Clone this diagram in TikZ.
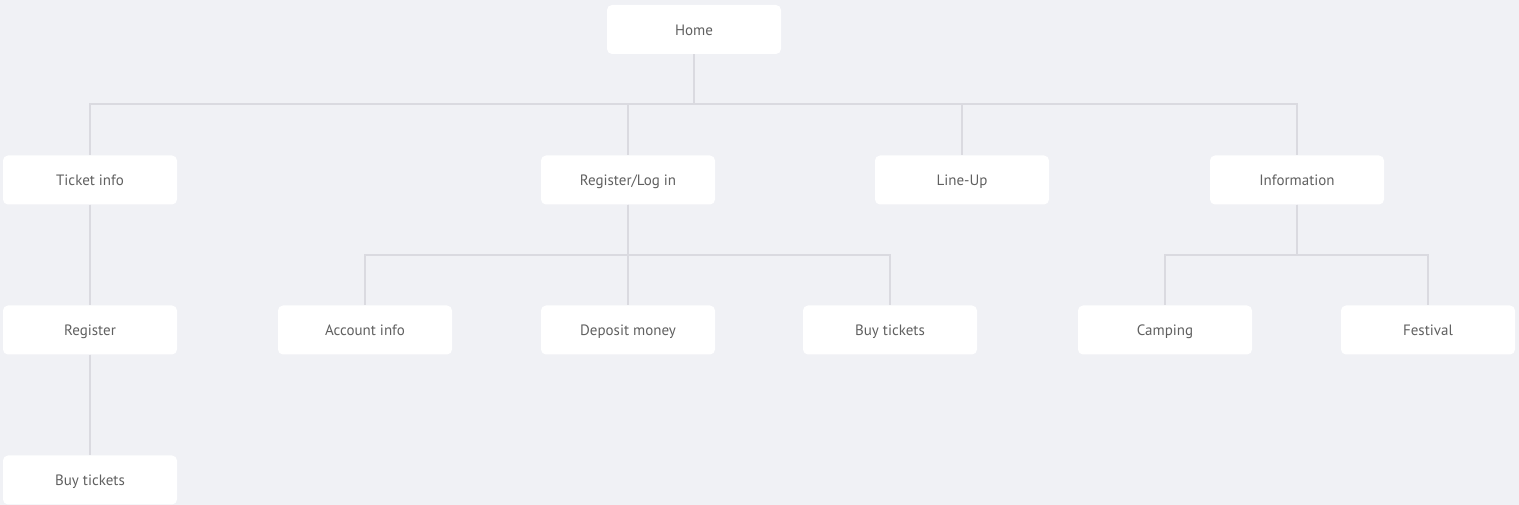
\documentclass[tikz,border=0pt]{standalone}
\usepackage{fontspec}
\setmainfont{PT Sans}
\definecolor{bg}{HTML}{F0F1F5}
\definecolor{edge}{HTML}{DADAE0}
\definecolor{txt}{HTML}{606060}
\begin{document}
\begin{tikzpicture}[x=1pt,y=1pt,
  box/.style={fill=white,rounded corners=5pt,minimum width=174pt,minimum height=49pt,inner sep=0pt,text=txt,font=\fontsize{15}{17}\selectfont,text height=12.5pt,text depth=1pt},
  conn/.style={draw=edge,line width=1.5pt}]
\fill[bg] (0,0) rectangle (1519,505);
\useasboundingbox (0,0) rectangle (1519,505);
\node[box] (home) at (694,475.5) {Home};
\node[box] (ticket) at (90,325) {Ticket info};
\node[box] (reglog) at (628,325) {Register/Log in};
\node[box] (lineup) at (962,325) {Line-Up};
\node[box] (info) at (1297,325) {Information};
\node[box] (register) at (90,175) {Register};
\node[box] (account) at (365,175) {Account info};
\node[box] (deposit) at (628,175) {Deposit money};
\node[box] (buy) at (890,175) {Buy tickets};
\node[box] (camping) at (1165,175) {Camping};
\node[box] (festival) at (1428,175) {Festival};
\node[box] (buy2) at (90,25) {Buy tickets};
\coordinate (busA) at (0,401);
\coordinate (busB) at (0,250);
\foreach \c in {ticket,reglog,lineup,info}
  \draw[conn] (home.south) -- (home.south |- busA) -| (\c.north);
\foreach \c in {account,deposit,buy}
  \draw[conn] (reglog.south) -- (reglog.south |- busB) -| (\c.north);
\foreach \c in {camping,festival}
  \draw[conn] (info.south) -- (info.south |- busB) -| (\c.north);
\draw[conn] (ticket.south) -- (register.north);
\draw[conn] (register.south) -- (buy2.north);
\end{tikzpicture}
\end{document}
